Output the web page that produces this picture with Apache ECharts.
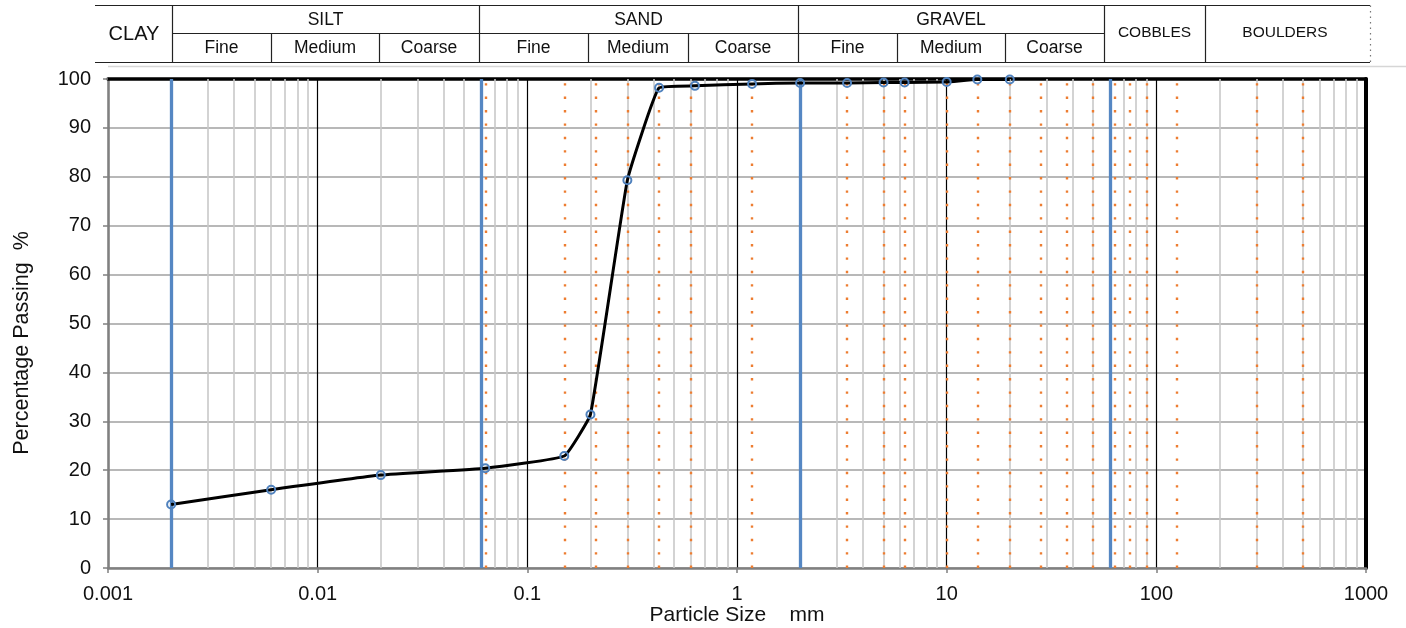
<!DOCTYPE html>
<html><head><meta charset="utf-8">
<script src="https://cdn.jsdelivr.net/npm/echarts@6/dist/echarts.min.js"></script>
<style>html,body{margin:0;padding:0;background:#fff}#c{width:1406px;height:628px}</style>
</head><body><div id="c"></div>
<script>
// ---- data ----
const particleSize   = [0.002, 0.006, 0.02, 0.063, 0.15, 0.2, 0.3, 0.425, 0.63, 1.18, 2, 3.35, 5, 6.3, 10, 14, 20];
const percentPassing = [13.0, 16.0, 19.0, 20.4, 22.9, 31.4, 79.3, 98.2, 98.6, 99.0, 99.2, 99.2, 99.3, 99.3, 99.4, 99.9, 99.9];
const sieveSizes     = [0.063, 0.15, 0.212, 0.3, 0.425, 0.6, 1.18, 3.35, 5, 6.3, 10, 14, 20, 28, 37.5, 50, 63, 75, 90, 125, 300, 500];
const boundarySizes  = [0.002, 0.06, 2, 60];
const decades        = [0.001, 0.01, 0.1, 1, 10, 100];
const minorSteps     = [2, 3, 4, 5, 6, 7, 8, 9];
const xTickLabels    = ['0.001', '0.01', '0.1', '1', '10', '100', '1000'];
const yTickLabels    = ['0', '10', '20', '30', '40', '50', '60', '70', '80', '90', '100'];
const mainClasses    = ['CLAY', 'SILT', 'SAND', 'GRAVEL', 'COBBLES', 'BOULDERS'];
const subClasses     = ['Fine', 'Medium', 'Coarse'];
const xTitle = 'Particle Size    mm';
const yTitle = 'Percentage Passing  %';

// ---- layout (pixels) ----
const FONT = "'Liberation Sans', Arial, sans-serif";
const hdr = {left: 95, right: 1370, top: 5.5, mid: 33.5, bot: 62.5};
const fullV = [172, 479, 798, 1104, 1205];
const subEdges = [[172, 271, 379, 479], [479, 588, 688, 798], [798, 897, 1005, 1104]];

const minorValues = [];
decades.forEach(d => minorSteps.forEach(m => minorValues.push(d * m)));

const graphics = [];
function hline(x1, x2, y, stroke, w, dash) {
  graphics.push({type: 'line', silent: true, shape: {x1, y1: y, x2, y2: y},
    style: {stroke, lineWidth: w, lineDash: dash || null}});
}
function vline(x, y1, y2, stroke, w, dash) {
  graphics.push({type: 'line', silent: true, shape: {x1: x + 0.5, y1, x2: x + 0.5, y2},
    style: {stroke, lineWidth: w, lineDash: dash || null}});
}
function txt(t, x, y, size, rot) {
  graphics.push({type: 'text', silent: true, x, y, rotation: rot || 0,
    style: {text: t, font: size + 'px ' + FONT, fill: '#111', textAlign: 'center', textVerticalAlign: 'middle'}});
}
hline(hdr.left, hdr.right, hdr.top, '#222', 1.2);
hline(fullV[0], fullV[3], hdr.mid, '#222', 1.2);
hline(hdr.left, hdr.right, hdr.bot, '#222', 1.2);
hline(108, 1406, 66.5, '#d6d6d6', 1.5);
fullV.forEach(x => vline(x, hdr.top, hdr.bot, '#222', 1.2));
subEdges.forEach(e => { vline(e[1], hdr.mid, hdr.bot, '#222', 1.2); vline(e[2], hdr.mid, hdr.bot, '#222', 1.2); });
vline(hdr.right, hdr.top, hdr.bot, '#777', 1.2, [1.5, 4]);
txt(mainClasses[0], 134, 34, 20);
for (let k = 0; k < 3; k++) {
  const e = subEdges[k];
  txt(mainClasses[k + 1], (e[0] + e[3]) / 2, 20, 17.5);
  for (let j = 0; j < 3; j++) txt(subClasses[j], (e[j] + e[j + 1]) / 2, 48.5, 17.5);
}
txt(mainClasses[4], (fullV[3] + fullV[4]) / 2, 33, 15.5);
txt(mainClasses[5], 1285, 33, 15.5);
txt(xTitle, 737, 615, 21);
txt(yTitle, 22, 343, 21.5, Math.PI / 2);

function vMarks(values, style, z) {
  return {type: 'line', data: [], silent: true, z,
    markLine: {silent: true, precision: 6, symbol: ['none', 'none'], label: {show: false}, animation: false,
      emphasis: {disabled: true}, lineStyle: style, data: values.map(v => ({xAxis: v}))}};
}

const chart = echarts.init(document.getElementById('c'), null, {renderer: 'canvas'});
chart.setOption({
  animation: false,
  textStyle: {fontFamily: FONT},
  grid: {left: 108, right: 40, top: 79, bottom: 60, containLabel: false, outerBoundsMode: 'none'},
  xAxis: [{
    type: 'log', logBase: 10, min: 0.001, max: 1000, splitNumber: 6,
    axisLine: {show: true, onZero: false, lineStyle: {color: '#808080', width: 2.5}},
    axisTick: {show: true, length: 5, inside: false, lineStyle: {color: '#808080', width: 1.5}},
    axisLabel: {margin: 16, fontSize: 20, color: '#111', fontFamily: FONT,
      formatter: v => xTickLabels[Math.round(Math.log10(v)) + 3]},
    splitLine: {show: true, lineStyle: {color: '#000', width: 1.2}},
    minorTick: {show: false}, minorSplitLine: {show: false}
  }, {
    type: 'log', logBase: 10, min: 0.001, max: 1000, position: 'top',
    axisLine: {show: true, onZero: false, lineStyle: {color: '#000', width: 3.5}},
    axisTick: {show: false}, axisLabel: {show: false}, splitLine: {show: false}
  }],
  yAxis: [{
    type: 'value', min: 0, max: 100, interval: 10,
    axisLine: {show: true, onZero: false, lineStyle: {color: '#808080', width: 2.5}},
    axisTick: {show: true, length: 5, inside: false, lineStyle: {color: '#808080', width: 1.5}},
    axisLabel: {margin: 17, fontSize: 20, color: '#111', fontFamily: FONT,
      formatter: v => yTickLabels[Math.round(v / 10)]},
    splitLine: {show: true, lineStyle: {color: '#a0a0a0', width: 1.6}}
  }, {
    type: 'value', min: 0, max: 100, position: 'right',
    axisLine: {show: true, onZero: false, lineStyle: {color: '#000', width: 4}},
    axisTick: {show: false}, axisLabel: {show: false}, splitLine: {show: false}
  }],
  graphic: graphics,
  series: [
    vMarks(minorValues, {color: '#c8c8c8', width: 1.6, type: 'solid'}, 1),
    vMarks(boundarySizes, {color: '#5587c3', width: 3.3, type: 'solid'}, 3),
    vMarks(sieveSizes, {color: '#ed7d31', width: 2.4, type: [2.4, 11], cap: 'butt'}, 4),
    {
      type: 'line', z: 5, smooth: 0.1,
      data: particleSize.map((x, i) => [x, percentPassing[i]]),
      symbol: 'circle', symbolSize: 8,
      itemStyle: {color: 'rgba(0,0,0,0)', borderColor: '#4f81bd', borderWidth: 2},
      lineStyle: {color: '#000', width: 3},
      emphasis: {disabled: true}
    }
  ]
});
</script></body></html>
